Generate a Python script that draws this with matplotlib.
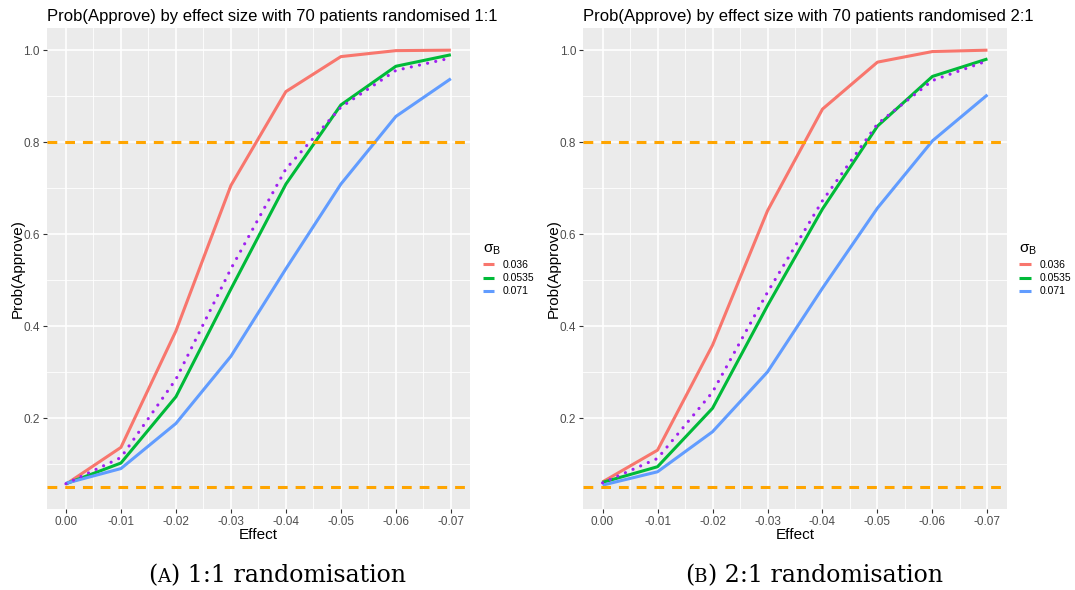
import matplotlib
matplotlib.use("Agg")
import matplotlib.pyplot as plt

plt.rcParams["font.family"] = ["Liberation Sans", "DejaVu Sans"]

effect = [0.00, -0.01, -0.02, -0.03, -0.04, -0.05, -0.06, -0.07]
sigma_labels = ["0.036", "0.0535", "0.071"]
sigma_colors = ["#F8766D", "#00BA38", "#619CFF"]

# Probability of approval, 1:1 randomisation
p11_036 = [0.057, 0.137, 0.390, 0.706, 0.910, 0.986, 0.999, 1.000]
p11_0535 = [0.058, 0.103, 0.247, 0.481, 0.709, 0.881, 0.965, 0.990]
p11_071 = [0.059, 0.091, 0.189, 0.335, 0.525, 0.709, 0.856, 0.938]
p11_ref = [0.058, 0.115, 0.285, 0.525, 0.742, 0.876, 0.956, 0.983]

# Probability of approval, 2:1 randomisation
p21_036 = [0.062, 0.131, 0.359, 0.651, 0.872, 0.974, 0.997, 1.000]
p21_0535 = [0.061, 0.095, 0.222, 0.445, 0.655, 0.835, 0.943, 0.981]
p21_071 = [0.055, 0.084, 0.171, 0.301, 0.483, 0.657, 0.803, 0.903]
p21_ref = [0.060, 0.113, 0.257, 0.474, 0.673, 0.840, 0.934, 0.977]

thresholds = [0.8, 0.05]

panels = [
    ("Prob(Approve) by effect size with 70 patients randomised 1:1",
     [p11_036, p11_0535, p11_071], p11_ref, "A", "1:1 randomisation"),
    ("Prob(Approve) by effect size with 70 patients randomised 2:1",
     [p21_036, p21_0535, p21_071], p21_ref, "B", "2:1 randomisation"),
]

W, H = 1075, 590
fig = plt.figure(figsize=(W / 100, H / 100), dpi=100)
fig.patch.set_facecolor("white")
renderer = fig.canvas.get_renderer()

SERIF = ["DejaVu Serif", "Liberation Serif"]


def small_caps_caption(cx_px, base_px, letter, rest, fs):
    """Draw '(X) text' with the letter in small capitals, centred at cx_px."""
    pieces = [("(", fs), (letter, fs * 0.78), (") " + rest, fs)]
    texts = []
    for s, size in pieces:
        t = fig.text(0, 0, s, fontsize=size, family=SERIF, va="baseline",
                     ha="left")
        texts.append(t)
    widths = [t.get_window_extent(renderer).width for t in texts]
    x = cx_px - sum(widths) / 2
    for t, w in zip(texts, widths):
        t.set_position((x / W, (H - base_px) / H))
        x += w


lefts = [46.7, 583.3]
top_px, bot_px, width_px = 28.3, 509.3, 423.4
caption_centres = [277, 814]

for (title, series, ref, letter, caption), lx, ccx in zip(panels, lefts, caption_centres):
    ax = fig.add_axes([lx / W, (H - bot_px) / H, width_px / W, (bot_px - top_px) / H])
    ax.set_facecolor("#EBEBEB")
    for s in ax.spines.values():
        s.set_visible(False)

    # white grid, major and minor
    for v in [0.1, 0.3, 0.5, 0.7, 0.9]:
        ax.axhline(v, color="white", lw=0.6, zorder=0)
    for v in [0.2, 0.4, 0.6, 0.8, 1.0]:
        ax.axhline(v, color="white", lw=1.2, zorder=0)
    for v in [-0.005, -0.015, -0.025, -0.035, -0.045, -0.055, -0.065]:
        ax.axvline(v, color="white", lw=0.6, zorder=0)
    for v in effect:
        ax.axvline(v, color="white", lw=1.2, zorder=0)

    handles = []
    for vals, col, lab in zip(series, sigma_colors, sigma_labels):
        h, = ax.plot(effect, vals, color=col, lw=2.2, label=lab, zorder=3,
                     solid_capstyle="butt")
        handles.append(h)
    ax.plot(effect, ref, color="#A020F0", lw=2.3, ls=(0, (0.01, 2.6)),
            dash_capstyle="round", zorder=4)
    for t in thresholds:
        ax.axhline(t, color="#FFA500", lw=2.2, ls=(0, (3.2, 2.6)), zorder=5)

    ax.set_xlim(0.0035, -0.0735)
    ax.set_ylim(0.0025, 1.0475)
    ax.set_xticks(effect)
    ax.set_xticklabels([f"{v:.2f}" for v in effect])
    ax.set_yticks([0.2, 0.4, 0.6, 0.8, 1.0])
    ax.set_yticklabels(["0.2", "0.4", "0.6", "0.8", "1.0"])
    ax.tick_params(axis="both", length=3, width=0.8, color="#333333",
                   labelcolor="#4D4D4D", labelsize=8.5, pad=2)
    ax.set_xlabel("Effect", fontsize=11, labelpad=0)
    ax.set_ylabel("Prob(Approve)", fontsize=11, labelpad=-1)
    ax.set_title(title, loc="left", fontsize=12, pad=5)

    leg = ax.legend(handles=handles, title="σ$_\\mathregular{B}$", loc="center left",
                    bbox_to_anchor=(1.03, 0.5), frameon=False, fontsize=7.5,
                    title_fontsize=11, handlelength=1.1, handletextpad=0.8,
                    labelspacing=0.3, borderaxespad=0.0, borderpad=0.0)
    leg._legend_box.align = "left"

    small_caps_caption(ccx, 582, letter, caption, 17)

fig.savefig("out.png", dpi=100, facecolor="white")
